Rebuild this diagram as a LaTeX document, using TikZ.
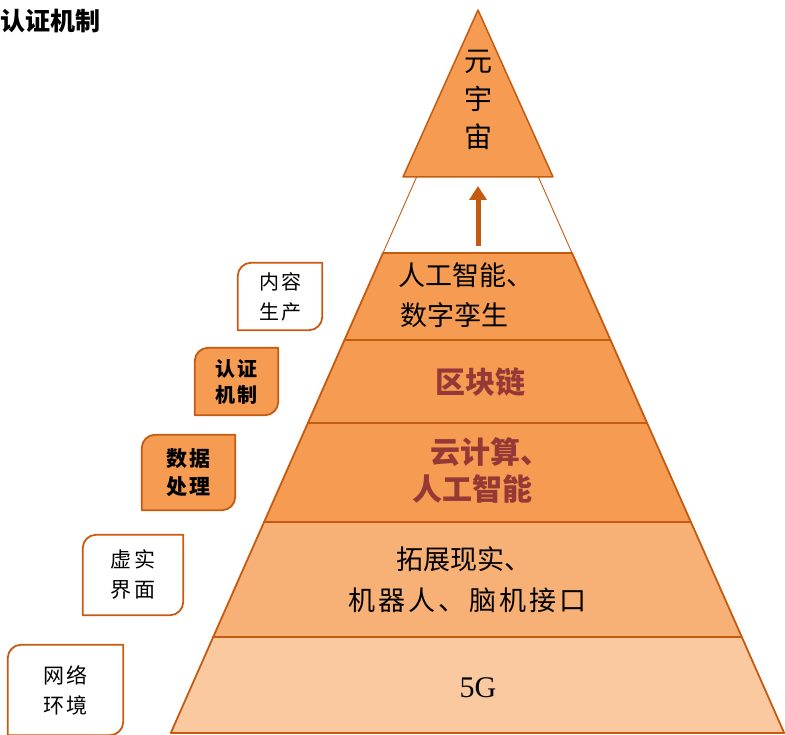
\documentclass[tikz,border=0pt]{standalone}
\usepackage{fontspec}
\setmainfont{Liberation Serif}
\newfontfamily\cjk{Noto Sans CJK SC}
\newfontfamily\cjksp[LetterSpace=12]{Noto Sans CJK SC}
\newfontfamily\cjkbox[LetterSpace=10]{Noto Sans CJK SC}
\usetikzlibrary{arrows.meta,backgrounds}
\definecolor{edgec}{HTML}{C55A11}
\definecolor{layerA}{HTML}{F59C52}
\definecolor{layerB}{HTML}{F7B075}
\definecolor{layerC}{HTML}{FAC9A0}
\definecolor{redtxt}{HTML}{963835}
\newcommand{\fsz}[2]{\fontsize{#1}{#2}\selectfont}
\newcommand{\diagbox}[2]{%
  \begin{scope}[on background layer]
    \draw[boxline, fill=#2] ([yshift=-13pt]#1.north west) -- (#1.south west)
      -- ([xshift=-13pt]#1.south east)
      .. controls ([xshift=-6pt]#1.south east) and ([yshift=6pt]#1.south east) .. ([yshift=13pt]#1.south east)
      -- (#1.north east) -- ([xshift=13pt]#1.north west)
      .. controls ([xshift=6pt]#1.north west) and ([yshift=-6pt]#1.north west) .. ([yshift=-13pt]#1.north west) -- cycle;
  \end{scope}}
\tikzset{
  layer/.style={draw=edgec, line width=1.8pt, line join=round},
  boxline/.style={draw=edgec, line width=1.8pt, line join=round},
  sidebox/.style={inner sep=0pt, align=center},
  laytext/.style={inner sep=0pt, font=\cjk\fsz{27}{32}},
  redtext/.style={inner sep=0pt, text=redtxt, font=\cjk\bfseries\fsz{30}{36}},
}
\begin{document}
\begin{tikzpicture}[x=1pt,y=-1pt]
\useasboundingbox (0,0) rectangle (785,735);
% pyramid coordinates
\coordinate (t0l) at (416.6,177); \coordinate (t0r) at (538.4,177);
\coordinate (t1l) at (383,253);   \coordinate (t1r) at (572,253);
\coordinate (t2l) at (344.5,340); \coordinate (t2r) at (610.5,340);
\coordinate (t3l) at (307.9,423); \coordinate (t3r) at (647.1,423);
\coordinate (t4l) at (264.1,522); \coordinate (t4r) at (690.9,522);
\coordinate (t5l) at (213.2,637); \coordinate (t5r) at (741.8,637);
\coordinate (t6l) at (170.8,733); \coordinate (t6r) at (784.2,733);
% thin guide lines
\draw[edgec, line width=0.9pt] (t0l) -- (t1l) (t0r) -- (t1r);
% layers
\draw[layer, fill=layerA] (t1l) -- (t1r) -- (t2r) -- (t2l) -- cycle;
\draw[layer, fill=layerA] (t2l) -- (t2r) -- (t3r) -- (t3l) -- cycle;
\draw[layer, fill=layerA] (t3l) -- (t3r) -- (t4r) -- (t4l) -- cycle;
\draw[layer, fill=layerB] (t4l) -- (t4r) -- (t5r) -- (t5l) -- cycle;
\draw[layer, fill=layerC] (t5l) -- (t5r) -- (t6r) -- (t6l) -- cycle;
% top triangle
\coordinate (apex) at (478,10); \coordinate (bl) at (403,177); \coordinate (br) at (553,177);
\draw[edgec, line width=1.5pt, line join=round, fill=layerA] (apex) -- (br) -- (bl) -- cycle;
\node[inner sep=0pt, align=center, font=\cjk\fsz{28}{38}] (yyz) at (478,100) {元\\宇\\宙};
% arrow
\coordinate (arrS) at (478,246); \coordinate (arrE) at (478,186);
\draw[edgec, line width=5pt, -{Triangle[width=17pt,length=14pt]}] (arrS) -- (arrE);
% layer texts
\node[laytext, anchor=west] (l1a) at (398,275) {人工智能、};
\node[laytext, anchor=west] (l1b) at (400,315) {数字孪生};
\node[redtext] (l2) at (480,382) {区块链};
\node[redtext, anchor=west] (l3a) at (430,452) {云计算、};
\node[redtext, anchor=west] (l3b) at (412,489) {人工智能};
\node[laytext, anchor=west] (l4a) at (396,559) {拓展现实、};
\node[inner sep=0pt, anchor=west, font=\cjksp\fsz{27}{32}] (l4b) at (348,600) {机器人、脑机接口};
\node[inner sep=0pt, font=\fsz{30}{36}] (l5) at (478,688) {5G};
% side boxes
\node[sidebox, minimum width=84pt, minimum height=67pt, font=\cjkbox\fsz{20}{30}] (nrsc) at (280,296.5) {内容\\生产};
\diagbox{nrsc}{white}
\node[sidebox, minimum width=83pt, minimum height=67pt, font=\cjkbox\bfseries\fsz{20}{26}] (rzjz) at (236.5,381.5) {认证\\机制};
\diagbox{rzjz}{layerA}
\node[sidebox, minimum width=93pt, minimum height=75pt, font=\cjkbox\bfseries\fsz{21}{28}] (sjcl) at (188.5,472.5) {数据\\处理};
\diagbox{sjcl}{layerA}
\node[sidebox, minimum width=100pt, minimum height=80pt, font=\cjkbox\fsz{21}{30}] (xsjm) at (133,575) {虚实\\界面};
\diagbox{xsjm}{white}
\node[sidebox, minimum width=115pt, minimum height=90pt, font=\cjkbox\fsz{21}{30}] (wlhj) at (65.5,690) {网络\\环境};
\diagbox{wlhj}{white}
% top-left label
\node[inner sep=0pt, anchor=west, font=\cjk\bfseries\fsz{25}{30}] (title) at (0,21) {认证机制};
\end{tikzpicture}
\end{document}
